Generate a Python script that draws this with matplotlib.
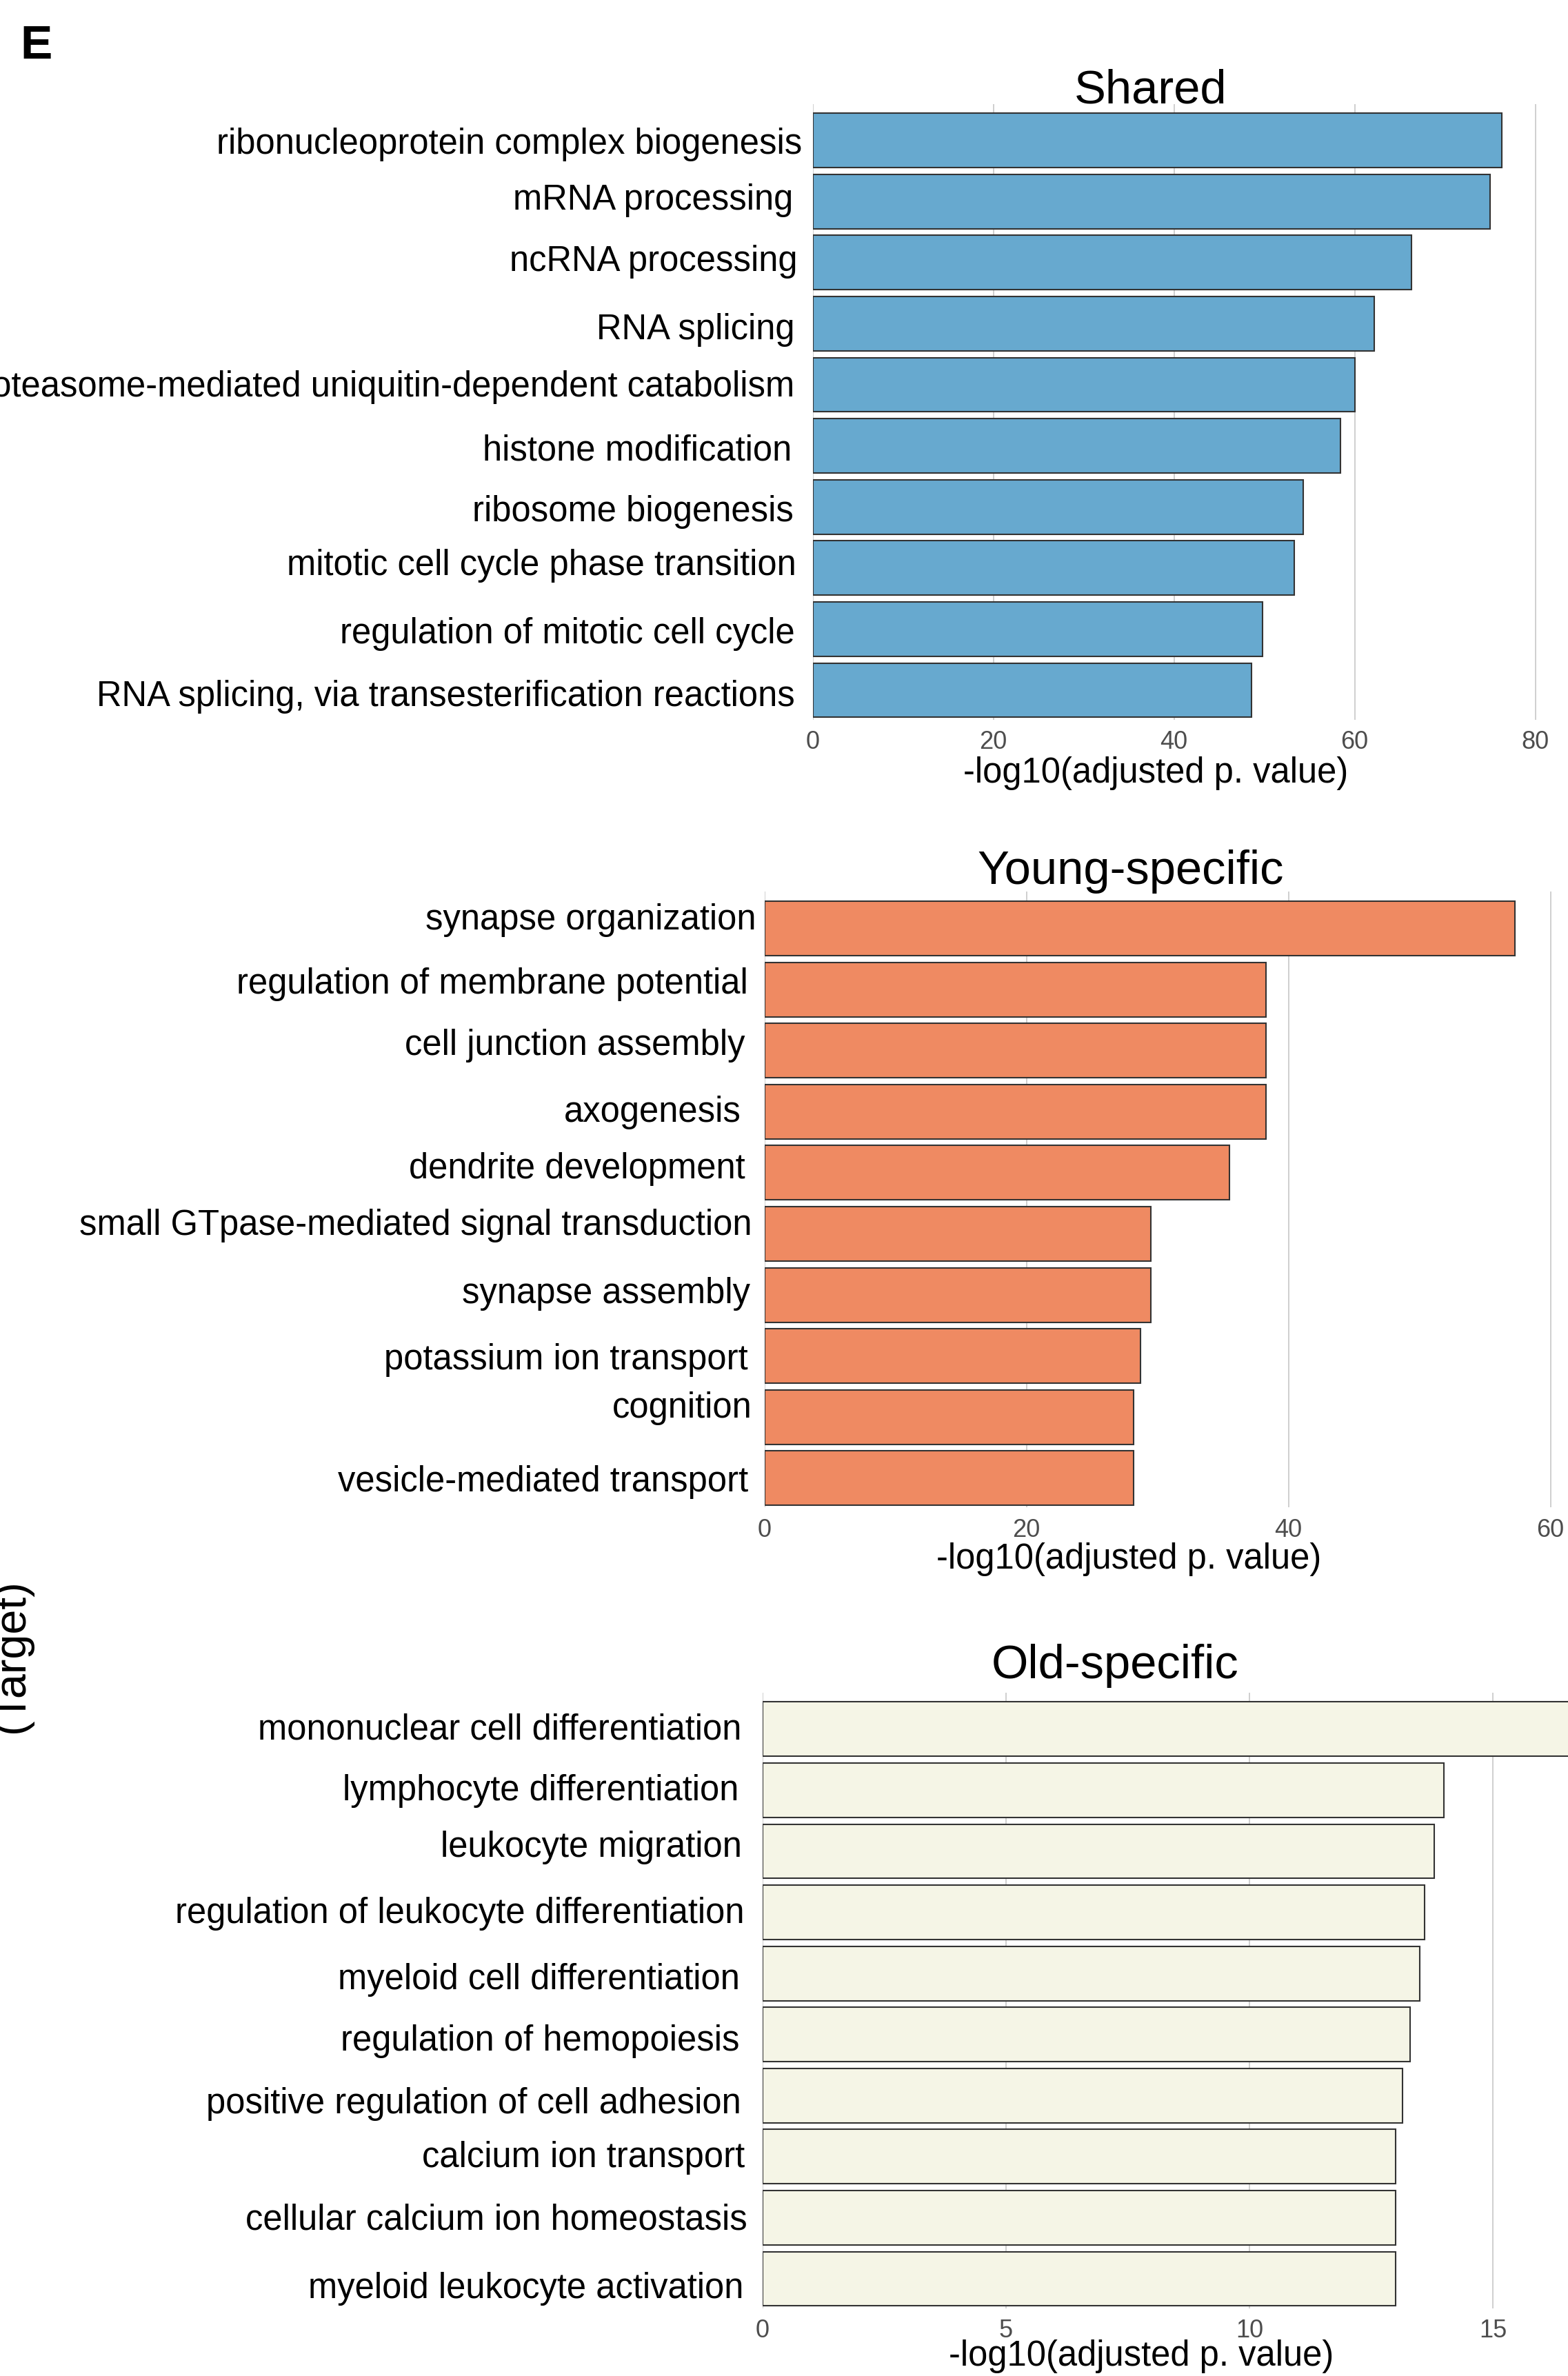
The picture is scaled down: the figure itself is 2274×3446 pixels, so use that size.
import matplotlib.pyplot as plt
from matplotlib import transforms

plt.rcParams['font.family'] = ['Liberation Sans', 'DejaVu Sans']

# データ (GO terms, -log10 adjusted p value)
shared_terms = ['ribonucleoprotein complex biogenesis', 'mRNA processing', 'ncRNA processing',
                'RNA splicing', 'proteasome-mediated uniquitin-dependent catabolism',
                'histone modification', 'ribosome biogenesis', 'mitotic cell cycle phase transition',
                'regulation of mitotic cell cycle', 'RNA splicing, via transesterification reactions']
shared_values = [76.3, 75.0, 66.3, 62.2, 60.0, 58.4, 54.3, 53.3, 49.8, 48.6]
shared_ticks = [0, 20, 40, 60, 80]

young_terms = ['synapse organization', 'regulation of membrane potential', 'cell junction assembly',
               'axogenesis', 'dendrite development', 'small GTpase-mediated signal transduction',
               'synapse assembly', 'potassium ion transport', 'cognition', 'vesicle-mediated transport']
young_values = [57.3, 38.3, 38.3, 38.3, 35.5, 29.5, 29.5, 28.7, 28.2, 28.2]
young_ticks = [0, 20, 40, 60]

old_terms = ['mononuclear cell differentiation', 'lymphocyte differentiation', 'leukocyte migration',
             'regulation of leukocyte differentiation', 'myeloid cell differentiation',
             'regulation of hemopoiesis', 'positive regulation of cell adhesion',
             'calcium ion transport', 'cellular calcium ion homeostasis', 'myeloid leukocyte activation']
old_values = [17.2, 14.0, 13.8, 13.6, 13.5, 13.3, 13.15, 13.0, 13.0, 13.0]
old_ticks = [0, 5, 10, 15]

# ラベルのずれ (px): 軸からの距離と上下のずれ
shared_gap = [15, 28, 22, 26, 26, 30, 28, 24, 26, 26]
shared_dy = [0, -7, -7, 4, -2, 2, 2, -9, 2, 4]
young_gap = [12, 24, 28, 34, 28, 18, 21, 24, 18, 23]
young_dy = [-18, -13, -13, -4, -11, -18, -7, 0, -18, 0]
old_gap = [31, 35, 30, 26, 33, 34, 31, 26, 22, 28]
old_dy = [-4, -4, -11, -4, 4, 4, 7, -4, -2, 9]

W, H = 2274, 3446
AX_H = 893  # パネルの高さ (px)

fig = plt.figure(figsize=(W / 100, H / 100), dpi=100)


def panel(terms, values, ticks, color, title, left_px, top_px, ppu, title_xy, xlabel_xy, gaps, dys):
    ax = fig.add_axes([left_px / W, 1 - (top_px + AX_H) / H, (W - left_px) / W, AX_H / H])
    ax.barh(range(len(values)), values, height=0.89, color=color,
            edgecolor='#333333', linewidth=1.5, zorder=2)
    ax.set_ylim(9.48, -0.6)
    ax.set_xlim(0, (W - left_px) / ppu)
    ax.set_xticks(ticks)
    ax.set_yticks([])
    ax.tick_params(axis='x', length=0, labelsize=26, labelcolor='#4d4d4d', pad=11)
    for s in ax.spines.values():
        s.set_visible(False)
    ax.grid(axis='x', color='#cfcfcf', linewidth=1.4, zorder=0)
    ax.set_axisbelow(True)

    # 項目ラベル
    base = transforms.blended_transform_factory(ax.transAxes, ax.transData)
    for i, term in enumerate(terms):
        tr = base + transforms.ScaledTranslation(-gaps[i] / 100, -dys[i] / 100, fig.dpi_scale_trans)
        ax.text(0, i, term, transform=tr, ha='right', va='center_baseline', fontsize=36.5)

    # タイトル (ベースライン位置をpxで指定)
    tx, ty = title_xy
    ax.text((tx - left_px) / (W - left_px), (top_px + AX_H - ty) / AX_H, title,
            transform=ax.transAxes, ha='center', va='baseline', fontsize=49.5)

    ax.set_xlabel('-log10(adjusted p. value)', fontsize=36.5)
    lx, ly = xlabel_xy
    ax.xaxis.set_label_coords((lx - left_px) / (W - left_px), (top_px + AX_H - ly) / AX_H)
    return ax


panel(shared_terms, shared_values, shared_ticks, '#67A9CF', 'Shared',
      1178.6, 150.5, 13.1, (1669, 150), (1676, 1097), shared_gap, shared_dy)
panel(young_terms, young_values, young_ticks, '#EF8A62', 'Young-specific',
      1108.5, 1293.4, 19.0, (1640, 1282), (1637, 2237), young_gap, young_dy)
panel(old_terms, old_values, old_ticks, '#F5F5E6', 'Old-specific',
      1106, 2454.6, 70.6, (1617, 2434), (1655, 3393), old_gap, old_dy)

# パネルラベルと切れたy軸ラベル
fig.text(29 / W, 1 - 85 / H, 'E', fontsize=50, fontweight='bold', ha='left', va='baseline')
fig.text(47 / W, 1 - 2402 / H, '(Target)', fontsize=46.5, rotation=90, ha='right', va='center')

fig.savefig('out.png', dpi=100)
